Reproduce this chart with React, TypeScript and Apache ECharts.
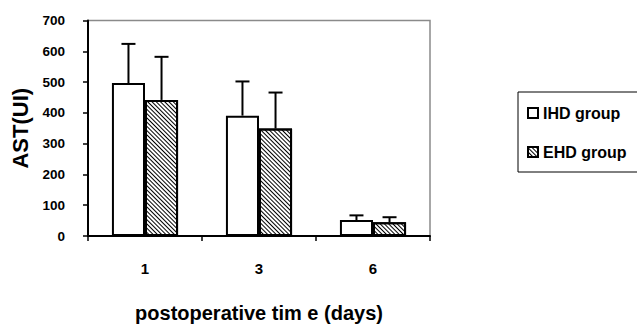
import React, { useEffect, useRef } from "react";
import * as echarts from "echarts";

const categories = ["1", "3", "6"];
const seriesNames = ["IHD group", "EHD group"];
const ihdMeans = [497, 391, 52];
const ihdErrors = [127, 111, 15];
const ehdMeans = [442, 349, 45];
const ehdErrors = [140, 117, 16];
const yTicks = [0, 700, 100];

const FONT = "'Liberation Sans', Arial, sans-serif";
const CATEGORY_GAP = 0.42;

function errorSeries(means: number[], errs: number[], side: number) {
  return {
    type: "custom",
    z: 5,
    silent: true,
    data: means.map((m, i) => [i, m, errs[i]]),
    renderItem: (params: any, api: any) => {
      const x = api.value(0);
      const mean = api.value(1);
      const err = api.value(2);
      const band = api.size([1, 0])[0];
      const offset = (side * band * (1 - CATEGORY_GAP)) / 4;
      const base = api.coord([x, mean]);
      const top = api.coord([x, mean + err]);
      const cx = base[0] + offset;
      const cap = 7;
      const style = { stroke: "#000", lineWidth: 2 };
      return {
        type: "group",
        children: [
          { type: "line", shape: { x1: cx, y1: base[1], x2: cx, y2: top[1] }, style },
          { type: "line", shape: { x1: cx - cap, y1: top[1], x2: cx + cap, y2: top[1] }, style },
        ],
      };
    },
  };
}

export default function App() {
  const ref = useRef<HTMLDivElement>(null);
  useEffect(() => {
    if (!ref.current) return;
    const chart = echarts.init(ref.current, null, { renderer: "svg" });
    chart.setOption({
      animation: false,
      backgroundColor: "#fff",
      grid: {
        left: 88,
        right: 207,
        top: 20.5,
        bottom: 87.5,
        show: true,
        borderColor: "#8a8a8a",
        borderWidth: 1.5,
      },
      legend: {
        data: seriesNames,
        orient: "vertical",
        left: 518,
        top: 92,
        icon: "rect",
        itemWidth: 10,
        itemHeight: 10,
        itemGap: 23,
        padding: [13, 15, 12, 9],
        borderColor: "#000",
        borderWidth: 1,
        textStyle: { fontFamily: FONT, fontWeight: "bold", fontSize: 16, color: "#000" },
      },
      xAxis: {
        type: "category",
        data: categories,
        name: "postoperative tim e (days)",
        nameLocation: "middle",
        nameGap: 67,
        nameTextStyle: { fontFamily: FONT, fontWeight: "bold", fontSize: 20, color: "#000" },
        axisLine: { lineStyle: { color: "#000", width: 2 } },
        axisTick: { show: true, length: 5, lineStyle: { color: "#000", width: 1.5 } },
        axisLabel: { margin: 25, fontFamily: FONT, fontWeight: "bold", fontSize: 15, color: "#000" },
      },
      yAxis: {
        type: "value",
        min: yTicks[0],
        max: yTicks[1],
        interval: yTicks[2],
        name: "AST(UI)",
        nameLocation: "middle",
        nameGap: 55,
        nameTextStyle: { fontFamily: FONT, fontWeight: "bold", fontSize: 22, color: "#000" },
        axisLine: { show: true, lineStyle: { color: "#000", width: 2 } },
        axisTick: { show: true, length: 5, lineStyle: { color: "#000", width: 1.5 } },
        splitLine: { show: false },
        axisLabel: { margin: 23, fontFamily: FONT, fontWeight: "bold", fontSize: 13.5, color: "#000" },
      },
      series: [
        {
          name: seriesNames[0],
          type: "bar",
          data: ihdMeans,
          barGap: "0%",
          barCategoryGap: CATEGORY_GAP * 100 + "%",
          itemStyle: { color: "#fff", borderColor: "#000", borderWidth: 2 },
        },
        {
          name: seriesNames[1],
          type: "bar",
          data: ehdMeans,
          barGap: "0%",
          barCategoryGap: CATEGORY_GAP * 100 + "%",
          itemStyle: {
            color: "#fff",
            borderColor: "#000",
            borderWidth: 2,
            decal: {
              symbol: "rect",
              symbolSize: 1,
              dashArrayX: [1, 0],
              dashArrayY: [1, 2],
              rotation: Math.PI / 4,
              color: "#000",
            },
          },
        },
        errorSeries(ihdMeans, ihdErrors, -1),
        errorSeries(ehdMeans, ehdErrors, 1),
      ],
    });
    return () => chart.dispose();
  }, []);
  return <div ref={ref} style={{ width: 637, height: 328, position: "absolute", left: 0, top: 0 }} />;
}
